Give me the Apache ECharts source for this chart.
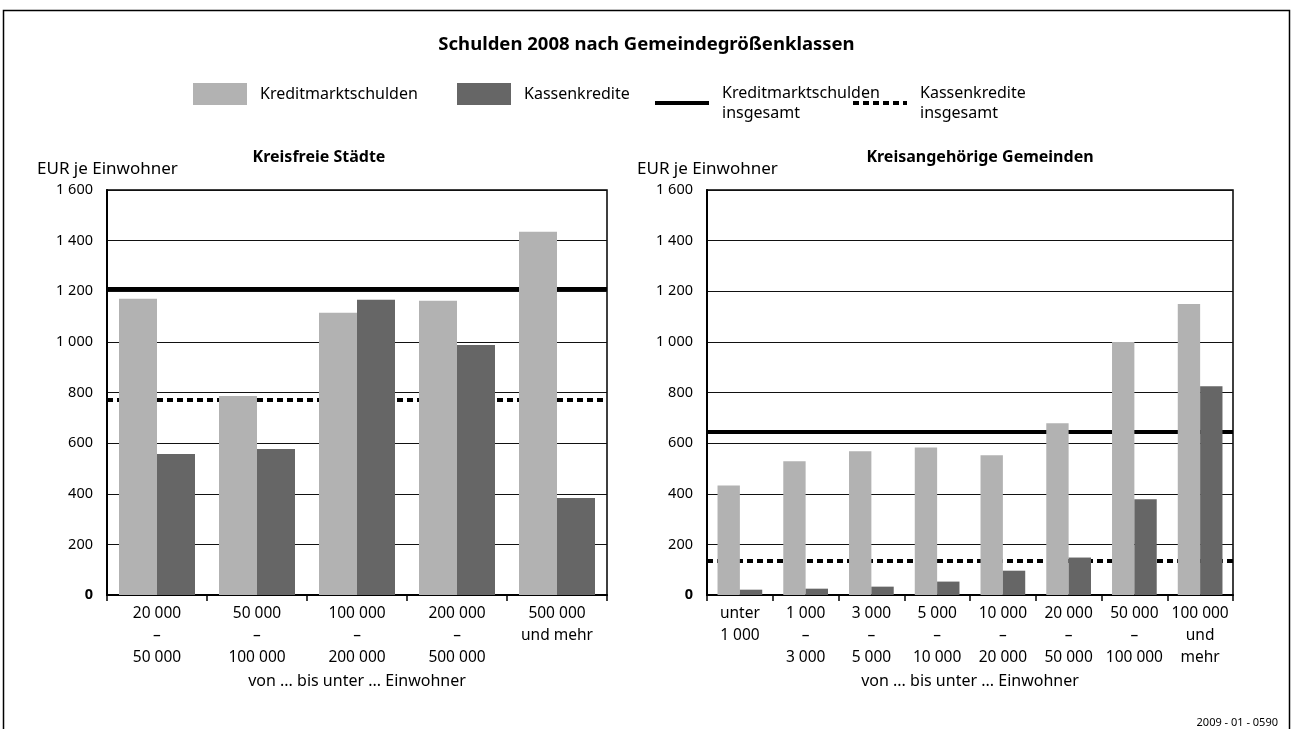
<!DOCTYPE html>
<html>
<head>
<meta charset="utf-8">
<script src="https://cdn.jsdelivr.net/npm/echarts@6/dist/echarts.min.js"></script>
<style>
html,body{margin:0;padding:0;background:#fff;}
#c{width:1293px;height:729px;}
</style>
</head>
<body>
<div id="c"></div>
<script>
// ---- data ----
var catsLeft = ['20 000\n–\n50 000', '50 000\n–\n100 000', '100 000\n–\n200 000', '200 000\n–\n500 000', '500 000\nund mehr'];
var kmsLeft = [1170, 786, 1115, 1162, 1435];
var kkLeft = [557, 577, 1166, 988, 383];
var totalKmsLeft = 1208;
var totalKkLeft = 772;

var catsRight = ['unter\n1 000', '1 000\n–\n3 000', '3 000\n–\n5 000', '5 000\n–\n10 000', '10 000\n–\n20 000', '20 000\n–\n50 000', '50 000\n–\n100 000', '100 000\nund\nmehr'];
var kmsRight = [433, 528, 568, 583, 552, 679, 1000, 1150];
var kkRight = [21, 25, 33, 53, 96, 148, 378, 825];
var totalKmsRight = 645;
var totalKkRight = 136;

var NAME_KMS = 'Kreditmarktschulden';
var NAME_KK = 'Kassenkredite';
var NAME_KMS_T = 'Kreditmarktschulden\ninsgesamt';
var NAME_KK_T = 'Kassenkredite\ninsgesamt';

// ---- styling ----
var FONT = 'Noto Sans';
var LIGHT = '#b2b2b2';
var DARK = '#666666';

function fmt(v) {
  if (v === 0) return '{z|0}';
  return String(v).replace(/\B(?=(\d{3})+(?!\d))/g, ' ');
}

function xAxis(idx, cats) {
  return {
    type: 'category', gridIndex: idx, data: cats,
    axisLine: {lineStyle: {color: '#000', width: 2}},
    axisTick: {show: true, interval: 0, length: 6, lineStyle: {color: '#000', width: 1.5}},
    axisLabel: {interval: 0, color: '#000', fontFamily: FONT, fontSize: 15.5, lineHeight: 22, margin: 8},
    name: 'von ... bis unter ... Einwohner', nameLocation: 'middle', nameGap: 76,
    nameTextStyle: {color: '#000', fontFamily: FONT, fontSize: 16}
  };
}
function yAxis(idx) {
  return {
    type: 'value', gridIndex: idx, min: 0, max: 1600, interval: 200,
    name: 'EUR je Einwohner', nameLocation: 'end', nameGap: 12,
    nameTextStyle: {color: '#000', fontFamily: FONT, fontSize: 17, align: 'left', padding: [0, 0, 0, -70]},
    axisLine: {show: true, lineStyle: {color: '#000', width: 2}},
    axisTick: {show: false},
    splitLine: {show: true, lineStyle: {color: '#111', width: 1.2}},
    axisLabel: {color: '#000', fontFamily: FONT, fontSize: 14.5, margin: 14, formatter: fmt,
      rich: {z: {fontWeight: 'bold', fontFamily: FONT, fontSize: 14.5, color: '#000'}}}
  };
}
function bars(idx, name, data, color, gap) {
  return {type: 'bar', name: name, xAxisIndex: idx, yAxisIndex: idx, data: data,
    itemStyle: {color: color}, barGap: '0%', barCategoryGap: gap, z: 3, silent: true};
}
function totalLine(idx, name, value, dashed) {
  var ls = {color: '#000', width: 4, type: dashed ? [6, 4] : 'solid', cap: 'butt'};
  return {type: 'line', name: name, xAxisIndex: idx, yAxisIndex: idx, data: [],
    symbol: 'none', lineStyle: ls, itemStyle: {color: 'rgba(0,0,0,0)', borderWidth: 0}, z: 1, silent: true,
    markLine: {silent: true, symbol: ['none', 'none'], label: {show: false}, lineStyle: ls,
      animation: false, data: [{yAxis: value}], z: 1}};
}
function legend(left, name, isLine) {
  var l = {left: left, top: 83, padding: 0, itemWidth: 54, itemHeight: 22, selectedMode: false,
    data: [name], textStyle: {color: '#000', fontFamily: FONT, fontSize: 16, lineHeight: 20, padding: [0, 0, 0, 8]}};
  if (isLine) {
    l.lineStyle = {width: 4, color: '#000', cap: 'butt'};
    l.itemStyle = {color: 'rgba(0,0,0,0)', borderWidth: 0, opacity: 0};
  } else {
    l.icon = 'rect';
  }
  return l;
}

var chart = echarts.init(document.getElementById('c'), null, {renderer: 'canvas'});
chart.setOption({
  animation: false,
  backgroundColor: '#fff',
  title: [
    {text: 'Schulden 2008 nach Gemeindegrößenklassen', left: 'center', top: 30,
      textStyle: {fontFamily: FONT, fontSize: 18.5, fontWeight: 'bold', color: '#000'}},
    {text: 'Kreisfreie Städte', left: 314, textAlign: 'center', top: 144,
      textStyle: {fontFamily: FONT, fontSize: 16, fontWeight: 'bold', color: '#000'}},
    {text: 'Kreisangehörige Gemeinden', left: 975, textAlign: 'center', top: 144,
      textStyle: {fontFamily: FONT, fontSize: 16, fontWeight: 'bold', color: '#000'}},
    {text: '2009 - 01 - 0590', right: 10, top: 712,
      textStyle: {fontFamily: FONT, fontSize: 11, fontWeight: 'normal', color: '#000'}}
  ],
  legend: [
    legend(193, NAME_KMS, false),
    legend(457, NAME_KK, false),
    legend(653, NAME_KMS_T, true),
    legend(851, NAME_KK_T, true)
  ],
  grid: [
    {left: 107, right: 686, top: 190, bottom: 134, show: true, borderColor: '#000', borderWidth: 1.5, backgroundColor: 'transparent'},
    {left: 707, right: 60, top: 190, bottom: 134, show: true, borderColor: '#000', borderWidth: 1.5, backgroundColor: 'transparent'}
  ],
  xAxis: [xAxis(0, catsLeft), xAxis(1, catsRight)],
  yAxis: [yAxis(0), yAxis(1)],
  series: [
    totalLine(0, NAME_KMS_T, totalKmsLeft, false),
    totalLine(0, NAME_KK_T, totalKkLeft, true),
    bars(0, NAME_KMS, kmsLeft, LIGHT, '24%'),
    bars(0, NAME_KK, kkLeft, DARK, '24%'),
    totalLine(1, NAME_KMS_T, totalKmsRight, false),
    totalLine(1, NAME_KK_T, totalKkRight, true),
    bars(1, NAME_KMS, kmsRight, LIGHT, '32%'),
    bars(1, NAME_KK, kkRight, DARK, '32%')
  ],
  graphic: [
    {type: 'rect', silent: true, z: 100, shape: {x: 3.5, y: 10.5, width: 1286, height: 740},
      style: {fill: null, stroke: '#000', lineWidth: 1.5}}
  ]
});
</script>
</body>
</html>
